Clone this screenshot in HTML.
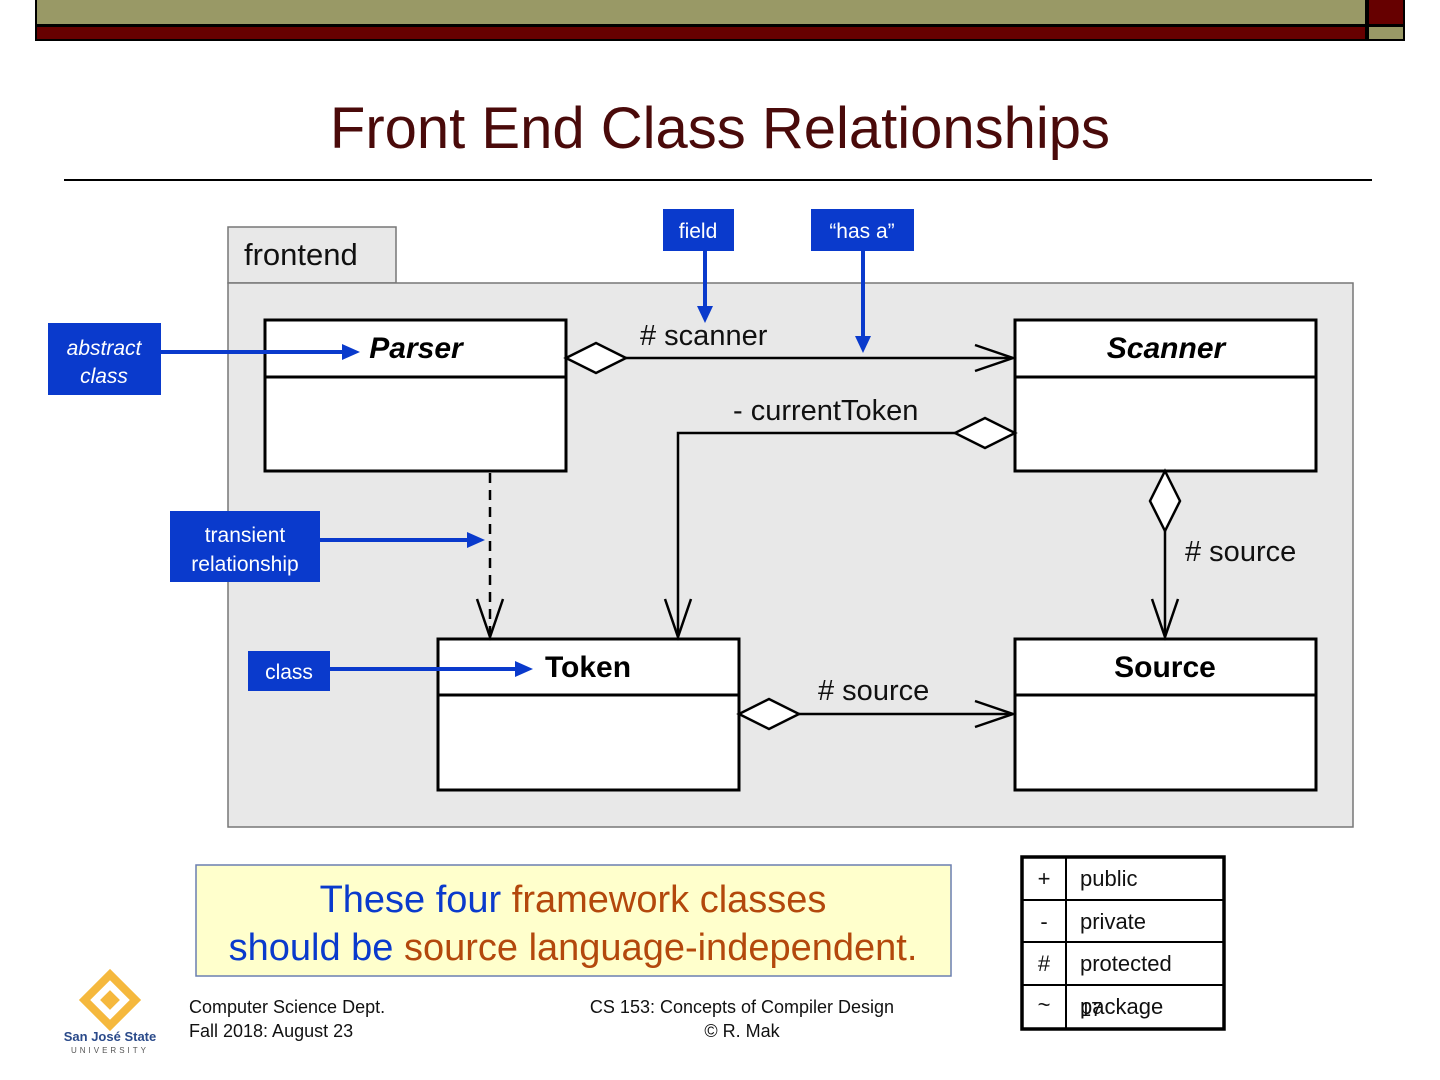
<!DOCTYPE html>
<html><head><meta charset="utf-8"><style>
html,body{margin:0;padding:0;background:#fff;}
svg{display:block;}
text{font-family:"Liberation Sans",Arial,sans-serif;}
</style></head><body>
<svg width="1440" height="1080" viewBox="0 0 1440 1080" xmlns="http://www.w3.org/2000/svg">
<!-- top bar -->
<rect x="35" y="0" width="1370" height="41" fill="#000"/>
<rect x="37" y="0" width="1328" height="24" fill="#999966"/>
<rect x="37" y="27" width="1328" height="12" fill="#660000"/>
<rect x="1369" y="0" width="34" height="24" fill="#660000"/>
<rect x="1369" y="27" width="34" height="12" fill="#999966"/>

<text x="720" y="148" font-size="58" fill="#4a0a0a" text-anchor="middle">Front End Class Relationships</text>
<line x1="64" y1="180" x2="1372" y2="180" stroke="#000" stroke-width="2"/>

<!-- package -->
<rect x="228" y="227" width="168" height="56" fill="#e8e8e8" stroke="#777" stroke-width="1.5"/>
<rect x="228" y="283" width="1125" height="544" fill="#e8e8e8" stroke="#777" stroke-width="1.5"/>
<text x="244" y="265" font-size="31" fill="#111">frontend</text>

<g stroke="#000" stroke-width="3" fill="#fff">
<rect x="265" y="320" width="301" height="151"/><line x1="265" y1="377" x2="566" y2="377"/>
<rect x="1015" y="320" width="301" height="151"/><line x1="1015" y1="377" x2="1316" y2="377"/>
<rect x="438" y="639" width="301" height="151"/><line x1="438" y1="695" x2="739" y2="695"/>
<rect x="1015" y="639" width="301" height="151"/><line x1="1015" y1="695" x2="1316" y2="695"/>
</g>
<text x="416" y="358" font-size="30" font-weight="bold" font-style="italic" text-anchor="middle">Parser</text>
<text x="1166" y="358" font-size="30" font-weight="bold" font-style="italic" text-anchor="middle">Scanner</text>
<text x="588" y="677" font-size="30" font-weight="bold" text-anchor="middle">Token</text>
<text x="1165" y="677" font-size="30" font-weight="bold" text-anchor="middle">Source</text>

<g stroke="#000" stroke-width="2.5" fill="none">
<!-- parser->scanner -->
<polygon points="566,358 596,343 626,358 596,373" fill="#fff"/>
<line x1="626" y1="358" x2="1013" y2="358"/>
<polyline points="975,345 1013,358 975,371"/>
<!-- currentToken -->
<polygon points="1015,433 985,418 955,433 985,448" fill="#fff"/>
<polyline points="955,433 678,433 678,637"/>
<polyline points="665,599 678,637 691,599"/>
<!-- dashed -->
<line x1="490" y1="473" x2="490" y2="637" stroke-dasharray="10,7"/>
<polyline points="477,599 490,637 503,599"/>
<!-- scanner->source -->
<polygon points="1165,471 1180,501 1165,531 1150,501" fill="#fff"/>
<line x1="1165" y1="531" x2="1165" y2="637"/>
<polyline points="1152,599 1165,637 1178,599"/>
<!-- token->source -->
<polygon points="739,714 769,699 799,714 769,729" fill="#fff"/>
<line x1="799" y1="714" x2="1013" y2="714"/>
<polyline points="975,701 1013,714 975,727"/>
</g>
<text x="640" y="345" font-size="29" fill="#111"># scanner</text>
<text x="733" y="420" font-size="29" fill="#111">- currentToken</text>
<text x="1185" y="561" font-size="29" fill="#111"># source</text>
<text x="818" y="700" font-size="29" fill="#111"># source</text>

<!-- blue callouts -->
<g fill="#0a3acc">
<rect x="663" y="209" width="71" height="42"/>
<rect x="811" y="209" width="103" height="42"/>
<rect x="48" y="323" width="113" height="72"/>
<rect x="170" y="511" width="150" height="71"/>
<rect x="248" y="651" width="82" height="40"/>
</g>
<g stroke="#0a3acc" stroke-width="4">
<line x1="705" y1="251" x2="705" y2="308"/>
<line x1="863" y1="251" x2="863" y2="338"/>
<line x1="161" y1="352" x2="345" y2="352"/>
<line x1="320" y1="540" x2="470" y2="540"/>
<line x1="330" y1="669" x2="518" y2="669"/>
</g>
<g fill="#0a3acc">
<polygon points="697,306 713,306 705,323"/>
<polygon points="855,336 871,336 863,353"/>
<polygon points="342,344 342,360 360,352"/>
<polygon points="467,532 467,548 485,540"/>
<polygon points="515,661 515,677 533,669"/>
</g>
<g fill="#fff" font-size="21" text-anchor="middle">
<text x="698" y="238">field</text>
<text x="862" y="238">“has a”</text>
<text x="104" y="355" font-style="italic">abstract</text>
<text x="104" y="383" font-style="italic">class</text>
<text x="245" y="542">transient</text>
<text x="245" y="571">relationship</text>
<text x="289" y="679">class</text>
</g>

<!-- yellow box -->
<rect x="196" y="865" width="755" height="111" fill="#ffffcc" stroke="#6a7fb0" stroke-width="1.5"/>
<text x="573" y="912" font-size="38" text-anchor="middle"><tspan fill="#0a3acc">These four </tspan><tspan fill="#b3480c">framework classes</tspan></text>
<text x="573" y="960" font-size="38" text-anchor="middle"><tspan fill="#0a3acc">should be </tspan><tspan fill="#b3480c">source language-independent.</tspan></text>

<!-- table -->
<g stroke="#000" fill="none">
<rect x="1022" y="857" width="202" height="172" stroke-width="3.5"/>
<line x1="1066" y1="857" x2="1066" y2="1029" stroke-width="2"/>
<line x1="1022" y1="900" x2="1224" y2="900" stroke-width="2"/>
<line x1="1022" y1="942" x2="1224" y2="942" stroke-width="2"/>
<line x1="1022" y1="985" x2="1224" y2="985" stroke-width="2"/>
</g>
<g font-size="22" fill="#111">
<text x="1044" y="886" text-anchor="middle">+</text>
<text x="1044" y="929" text-anchor="middle">-</text>
<text x="1044" y="971" text-anchor="middle">#</text>
<text x="1044" y="1012" text-anchor="middle">~</text>
<text x="1080" y="886">public</text>
<text x="1080" y="929">private</text>
<text x="1080" y="971">protected</text>
<text x="1080" y="1014">package</text>
<text x="1080" y="1016" font-size="20">17</text>
</g>

<!-- footer -->
<g transform="translate(110,1000) rotate(45)" fill="#f5b83d">
<rect x="-18" y="-18" width="36" height="36" fill="none" stroke="#f5b83d" stroke-width="8"/>
<rect x="-7" y="-7" width="14" height="14"/>
</g>
<text x="110" y="1041" font-size="13" font-family="Liberation Serif,serif" font-weight="bold" fill="#2a4a8a" text-anchor="middle">San José State</text>
<text x="110" y="1053" font-size="8" fill="#555" text-anchor="middle" letter-spacing="3">UNIVERSITY</text>
<g font-size="18" fill="#111">
<text x="189" y="1013">Computer Science Dept.</text>
<text x="189" y="1037">Fall 2018: August 23</text>
<text x="742" y="1013" text-anchor="middle">CS 153: Concepts of Compiler Design</text>
<text x="742" y="1037" text-anchor="middle">© R. Mak</text>
</g>
</svg>
</body></html>
